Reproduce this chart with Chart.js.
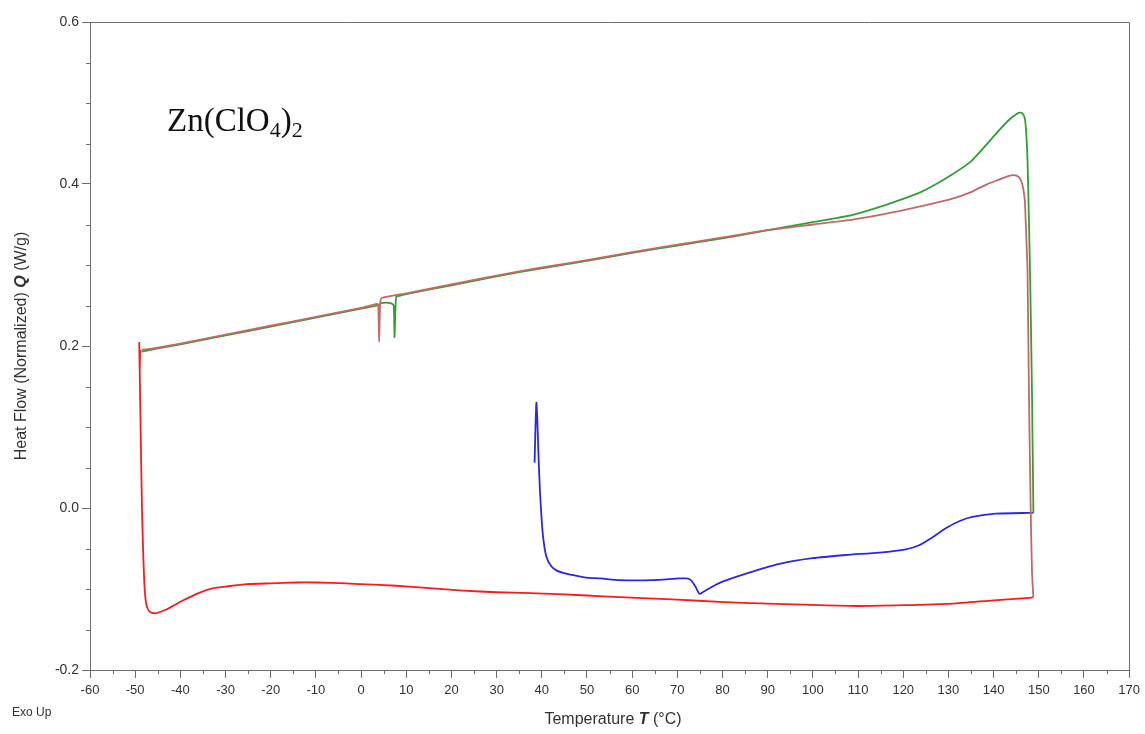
<!DOCTYPE html>
<html>
<head>
<meta charset="utf-8">
<script src="https://cdn.jsdelivr.net/npm/chart.js@4/dist/chart.umd.min.js"></script>
<style>
  html, body { margin: 0; padding: 0; background: #fff; }
  #wrap { width: 1145px; height: 734px; position: relative; }
</style>
</head>
<body>
<div id="wrap"><canvas id="dsc" width="1145" height="734"></canvas></div>
<script>
// DSC thermogram of Zn(ClO4)2: heat flow (W/g) against temperature (°C)

// Second heating run (rosy-brown)
const brownTemp = [-48.6, -45, -40, -30, -20, -10, 0, 3.5, 3.8, 4.0, 4.2, 4.5, 10, 20, 30, 40, 50, 60, 70, 80, 90, 100, 108.8, 116, 123.5, 130.9, 135, 138.3, 141, 143.4, 144.5, 145.5, 146.0, 146.5, 146.9, 147.2, 147.5, 147.8, 148.2, 148.5, 148.8];
const brownFlow = [0.195, 0.198, 0.203, 0.214, 0.225, 0.236, 0.247, 0.252, 0.250, 0.205, 0.250, 0.259, 0.265, 0.276, 0.287, 0.297, 0.306, 0.316, 0.325, 0.334, 0.343, 0.350, 0.356, 0.363, 0.372, 0.382, 0.390, 0.399, 0.405, 0.410, 0.411, 0.409, 0.405, 0.396, 0.380, 0.340, 0.294, 0.150, 0.000, -0.080, -0.110];

// First heating run (green)
const greenTemp = [-48.6, -45, -40, -30, -20, -10, 0, 3.5, 4.5, 6.5, 7.2, 7.4, 7.6, 7.8, 8.5, 10, 20, 30, 40, 50, 60, 70, 80, 90, 100, 108.8, 116, 123.5, 127, 130.9, 135, 138.3, 141, 143.4, 145, 145.7, 146.4, 146.9, 147.2, 147.5, 147.8, 148.1, 148.5, 148.8];
const greenFlow = [0.193, 0.197, 0.202, 0.213, 0.224, 0.235, 0.246, 0.250, 0.253, 0.253, 0.250, 0.211, 0.245, 0.261, 0.262, 0.264, 0.275, 0.286, 0.296, 0.305, 0.315, 0.324, 0.333, 0.343, 0.353, 0.362, 0.374, 0.389, 0.399, 0.412, 0.428, 0.448, 0.465, 0.479, 0.486, 0.488, 0.487, 0.481, 0.465, 0.430, 0.360, 0.280, 0.140, -0.006];

// Initial run from room temperature (blue)
const blueTemp = [38.4, 38.6, 38.8, 39.0, 39.3, 39.6, 40.2, 41.0, 42.1, 43.2, 44.7, 47, 49.8, 53, 57.2, 64.5, 70.5, 72, 73, 74, 74.9, 75.6, 77.8, 80, 85.2, 92.6, 99.9, 107.3, 114.7, 120.6, 123.5, 126.5, 129.4, 132.5, 135.3, 140.5, 147.9, 148.8];
const blueFlow = [0.056, 0.100, 0.130, 0.110, 0.060, 0.020, -0.031, -0.060, -0.072, -0.077, -0.080, -0.083, -0.086, -0.087, -0.089, -0.089, -0.087, -0.087, -0.089, -0.097, -0.106, -0.104, -0.097, -0.091, -0.081, -0.069, -0.062, -0.058, -0.055, -0.051, -0.046, -0.036, -0.025, -0.016, -0.011, -0.007, -0.006, -0.006];

// Cooling run (red), traced from 149 °C back down to -49 °C
const redTemp = [148.8, 147.9, 140, 130.9, 120, 110, 101.4, 90, 79.3, 70, 57.2, 50, 37.3, 30, 22.6, 15, 7.8, 0, -3.2, -10, -14.3, -20, -25.3, -30, -32.7, -36, -40.1, -43, -45.6, -46.8, -47.5, -47.9, -48.2, -48.5, -48.8, -49.0, -49.1, -49.0, -48.9];
const redFlow = [-0.110, -0.111, -0.114, -0.118, -0.120, -0.121, -0.120, -0.118, -0.116, -0.113, -0.110, -0.108, -0.105, -0.104, -0.102, -0.099, -0.096, -0.094, -0.093, -0.092, -0.092, -0.093, -0.094, -0.097, -0.099, -0.105, -0.116, -0.125, -0.130, -0.128, -0.120, -0.100, -0.060, 0.000, 0.100, 0.170, 0.205, 0.170, 0.195];

// Axis ranges and tick labels
const xTickLabels = [-60, -50, -40, -30, -20, -10, 0, 10, 20, 30, 40, 50, 60, 70, 80, 90, 100, 110, 120, 130, 140, 150, 160, 170];
const yTickLabels = ['-0.2', '0.0', '0.2', '0.4', '0.6'];
const xMinorStep = 5;
const yMinorStep = 0.05;

const AXIS = '#6e6e6e';
const TEXT = '#333333';
const SANS = '"Liberation Sans", Arial, sans-serif';

function pairs(xs, ys) { return xs.map((v, i) => ({ x: v, y: ys[i] })); }

function series(label, xs, ys, color) {
  return {
    label, data: pairs(xs, ys), borderColor: color, backgroundColor: color,
    borderWidth: 1.8, pointRadius: 0, tension: 0.2, showLine: true, fill: false
  };
}

// mixed-style text runs, e.g. an italic bold symbol inside a plain label
function richWidth(ctx, parts) {
  let w = 0;
  for (const p of parts) { ctx.font = p.font; w += ctx.measureText(p.text).width; }
  return w;
}
function drawRich(ctx, parts, x, y) {
  let cx = x;
  for (const p of parts) {
    ctx.font = p.font;
    ctx.fillText(p.text, cx, y + (p.dy || 0));
    cx += ctx.measureText(p.text).width;
  }
}

const decor = {
  id: 'decor',
  afterDraw(chart) {
    const { ctx, chartArea: a, scales: { x, y } } = chart;
    ctx.save();
    ctx.strokeStyle = AXIS;
    ctx.lineWidth = 1;

    // frame: top and right edges of the plot box
    ctx.beginPath();
    ctx.moveTo(a.left, Math.round(a.top) + 0.5);
    ctx.lineTo(Math.round(a.right) + 0.5, Math.round(a.top) + 0.5);
    ctx.lineTo(Math.round(a.right) + 0.5, a.bottom);
    ctx.stroke();

    // minor ticks
    ctx.beginPath();
    for (let v = x.min + xMinorStep; v < x.max; v += 2 * xMinorStep) {
      const px = Math.round(x.getPixelForValue(v)) + 0.5;
      ctx.moveTo(px, a.bottom); ctx.lineTo(px, a.bottom + 4);
    }
    for (let k = 1; k < Math.round((y.max - y.min) / yMinorStep); k++) {
      if (k % 4 === 0) continue;
      const py = Math.round(y.getPixelForValue(y.min + k * yMinorStep)) + 0.5;
      ctx.moveTo(a.left, py); ctx.lineTo(a.left - 4, py);
    }
    ctx.stroke();

    ctx.fillStyle = TEXT;
    ctx.textBaseline = 'middle';

    // x-axis title
    const xt = [
      { text: 'Temperature ', font: '16px ' + SANS },
      { text: 'T', font: 'italic bold 16px ' + SANS },
      { text: ' (°C)', font: '16px ' + SANS }
    ];
    const xw = richWidth(ctx, xt);
    drawRich(ctx, xt, 613 - xw / 2, 720);

    // y-axis title, rotated
    const yt = [
      { text: 'Heat Flow (Normalized) ', font: '16px ' + SANS },
      { text: 'Q', font: 'italic bold 16px ' + SANS },
      { text: ' (W/g)', font: '16px ' + SANS }
    ];
    const yw = richWidth(ctx, yt);
    ctx.save();
    ctx.translate(22, (a.top + a.bottom) / 2);
    ctx.rotate(-Math.PI / 2);
    drawRich(ctx, yt, -yw / 2, 0);
    ctx.restore();

    // exotherm direction note
    ctx.font = '12px ' + SANS;
    ctx.fillText('Exo Up', 12, 713);

    // sample name
    ctx.fillStyle = '#111';
    ctx.textBaseline = 'alphabetic';
    const big = '33px "Liberation Serif", "Times New Roman", serif';
    const sub = '22px "Liberation Serif", "Times New Roman", serif';
    drawRich(ctx, [
      { text: 'Zn(ClO', font: big },
      { text: '4', font: sub, dy: 6 },
      { text: ')', font: big },
      { text: '2', font: sub, dy: 6 }
    ], 167, 131);
    ctx.restore();
  }
};

new Chart(document.getElementById('dsc'), {
  type: 'scatter',
  data: {
    datasets: [
      series('Heating 2', brownTemp, brownFlow, 'rgb(195,105,105)'),
      series('Heating 1', greenTemp, greenFlow, 'rgb(50,160,50)'),
      series('Initial heating', blueTemp, blueFlow, 'rgb(40,40,235)'),
      series('Cooling', redTemp, redFlow, 'rgb(245,30,30)')
    ]
  },
  options: {
    responsive: false,
    animation: false,
    devicePixelRatio: 1,
    layout: { padding: { top: 22, right: 14, left: 0, bottom: 0 } },
    plugins: { legend: { display: false }, tooltip: { enabled: false } },
    scales: {
      x: {
        type: 'linear',
        min: xTickLabels[0], max: xTickLabels[xTickLabels.length - 1],
        afterBuildTicks: s => { s.ticks = xTickLabels.map(v => ({ value: v })); },
        afterFit: s => { s.height = 64; },
        ticks: {
          autoSkip: false, maxRotation: 0, padding: 5, color: TEXT,
          font: { family: SANS, size: 13 },
          callback: v => String(v)
        },
        grid: { drawOnChartArea: false, tickLength: 8, color: AXIS, tickColor: AXIS },
        border: { display: true, color: AXIS, width: 1 }
      },
      y: {
        type: 'linear',
        min: Number(yTickLabels[0]), max: Number(yTickLabels[yTickLabels.length - 1]),
        afterBuildTicks: s => { s.ticks = yTickLabels.map(v => ({ value: Number(v) })); },
        afterFit: s => { s.width = 90; },
        ticks: {
          padding: 3, color: TEXT,
          font: { family: SANS, size: 14 },
          callback: v => yTickLabels.find(t => Number(t) === v) ?? ''
        },
        grid: { drawOnChartArea: false, tickLength: 8, color: AXIS, tickColor: AXIS },
        border: { display: true, color: AXIS, width: 1 }
      }
    }
  },
  plugins: [decor]
});
</script>
</body>
</html>
